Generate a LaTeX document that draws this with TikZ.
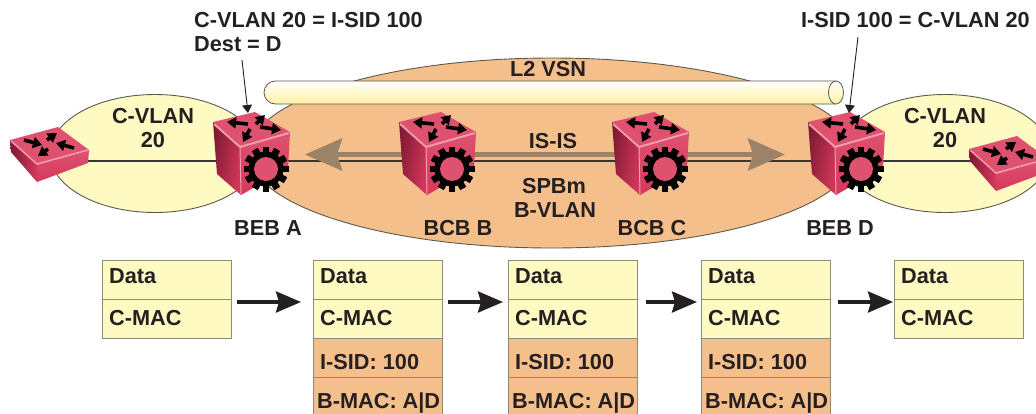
\documentclass[tikz,border=0pt]{standalone}
\usepackage{fontspec}
\setmainfont{Liberation Sans}
\usetikzlibrary{arrows.meta}

\definecolor{f5c08c}{rgb}{0.96, 0.75, 0.55}
\definecolor{fffac2}{rgb}{1, 0.98, 0.76}
\definecolor{fff3a0}{rgb}{1, 0.95, 0.63}
\definecolor{9c8366}{rgb}{0.61, 0.51, 0.40}
\definecolor{231f20}{rgb}{0.14, 0.12, 0.13}
\definecolor{5c5a50}{rgb}{0.36, 0.35, 0.31}
\definecolor{8d8c7c}{rgb}{0.55, 0.55, 0.49}
\definecolor{d63c60}{rgb}{0.84, 0.22, 0.36}
\definecolor{e0587a}{rgb}{0.87, 0.32, 0.44}
\definecolor{8c1c38}{rgb}{0.50, 0.10, 0.20}
\definecolor{f59db0}{rgb}{0.96, 0.62, 0.69}

\tikzset{
  lbl/.style={font=\fontsize{21.7}{24.5}\selectfont\bfseries, text=231f20, inner sep=0pt, anchor=base},
  rowtext/.style={lbl, anchor=base west},
  datarow/.style={draw=8d8c7c, line width=1.2pt, anchor=north west, minimum width=129pt, minimum height=39pt, inner sep=0pt},
  flowarrow/.style={-{Stealth[length=25pt,width=21pt,inset=3pt]}, line width=3.4pt, color=231f20},
  callout/.style={-{Triangle[length=8pt,width=10pt]}, line width=0.9pt, color=231f20},
  cloud/.style={draw=5c5a50, line width=0.9pt},
  tinyarrow/.style={-{Triangle[length=9pt,width=11pt]}, line width=3.6pt, color=black},
  bigswitch/.pic={
    \shade[top color=e0587a, bottom color=d63c60] (-12,-15) -- (38,-29) -- (36,7) -- (-11,34) -- cycle;
    \shade[left color=8c1c38, right color=d63c60, shading angle=80] (-39,-39) -- (-12,-15) -- (-11,34) -- (-35,13) -- cycle;
    \fill[e0587a] (3,-49) -- (38,-29) -- (-12,-15) -- (-39,-39) -- cycle;
    \draw[f59db0, line width=1.8pt, line join=round] (-38,-37) -- (-12,-14) -- (37,-28);
    \draw[f59db0, line width=1pt] (-12,-14) -- (-11,33);
    \draw[tinyarrow] (-4,-37) -- (-25,-39);
    \draw[tinyarrow] (4,-37) -- (13,-46);
    \draw[tinyarrow] (8,-34) -- (29,-31);
    \draw[tinyarrow] (-2,-32) -- (-9,-19);
    \begin{scope}[shift={(14,8)}]
      \foreach \a in {0,30,...,330}
        \fill[black, rotate=\a] (-3.4,15) rectangle (3.4,22.5);
      \fill[black] (0,0) circle (17.5);
      \fill[e0587a] (0,0) circle (12);
    \end{scope}
  },
  flatswitch/.pic={
    \shade[top color=e0587a, bottom color=d63c60] (37,165) -- (89,150) -- (88,163) -- (37,182) -- cycle;
    \shade[left color=8c1c38, right color=d63c60] (10,140) -- (37,165) -- (37,182) -- (11,152) -- cycle;
    \fill[e0587a] (58,127) -- (89,150) -- (37,165) -- (10,140) -- cycle;
    \draw[f59db0, line width=1.4pt, line join=round] (11,141) -- (37,164) -- (88,150);
    \draw[tinyarrow] (24,140) -- (42,145);
    \draw[tinyarrow] (47,140) -- (57,133);
    \draw[tinyarrow] (74,148) -- (56,143);
    \draw[tinyarrow] (48,149) -- (38,156);
  }
}

\begin{document}
\begin{tikzpicture}[x=1pt, y=-1pt]
  \path[use as bounding box, clip] (0,0) rectangle (1036,413);

  % clouds
  \draw[cloud, fill=f5c08c] (552,153) ellipse (303 and 95);
  \draw[cloud, fill=fffac2] (155,153.5) ellipse (105 and 59);
  \draw[cloud, fill=fffac2] (945,153.5) ellipse (105 and 59);
  \node[lbl] (vsnTxt) at (548,76) {L2 VSN};

  % tube
  \draw[5c5a50, line width=0.8pt, top color=white, bottom color=fff3a0]
    (836,81) -- (275.5,81) arc (270:90:11.5) -- (836,104);
  \draw[5c5a50, line width=0.8pt, top color=white, bottom color=fff3a0] (836,92.5) ellipse (7.5 and 11.5);

  % backbone
  \coordinate (swL) at (50,161);
  \coordinate (bebA) at (252,161);
  \coordinate (bcbB) at (438,161);
  \coordinate (bcbC) at (651,161);
  \coordinate (bebD) at (847,161);
  \coordinate (swR) at (1005,161);
  \draw[5c5a50!60!black, line width=1.6pt] (swL) -- (bebA) -- (bcbB) -- (bcbC) -- (bebD) -- (swR);

  \coordinate (isisL) at (305,154.5);
  \coordinate (isisR) at (785,154.5);
  \draw[9c8366, line width=5pt, {Stealth[length=37pt,width=32pt,inset=5pt]}-{Stealth[length=37pt,width=32pt,inset=5pt]}] (isisL) -- (isisR);

  % switches
  \pic at (0,0) {flatswitch};
  \pic at (959,9) {flatswitch};
  \pic at (bebA) {bigswitch};
  \pic at (bcbB) {bigswitch};
  \pic at (bcbC) {bigswitch};
  \pic at (bebD) {bigswitch};

  % top labels
  \node[rowtext] (mapA) at (194,27) {C-VLAN 20 = I-SID 100};
  \node[rowtext] (destA) at (194,51) {Dest = D};
  \node[rowtext] (mapD) at (801,27) {I-SID 100 = C-VLAN 20};
  \coordinate (callA) at (242,60);
  \coordinate (callD) at (858,37);
  \coordinate (tipA) at (248,113);
  \coordinate (tipD) at (849,113);
  \draw[callout] (callA) -- (tipA);
  \draw[callout] (callD) -- (tipD);

  \node[lbl] (vlanL) at (153,123) {C-VLAN};
  \node[lbl] (numL) at (153,147) {20};
  \node[lbl] (vlanR) at (945,123) {C-VLAN};
  \node[lbl] (numR) at (945,147) {20};
  \node[lbl] (isisTxt) at (553,148) {IS-IS};
  \node[lbl] (spbTxt) at (554,193) {SPBm};
  \node[lbl] (bvlanTxt) at (555,217) {B-VLAN};
  \node[lbl] (bebAtxt) at (268,235) {BEB A};
  \node[lbl] (bcbBtxt) at (458,235) {BCB B};
  \node[lbl] (bcbCtxt) at (652,235) {BCB C};
  \node[lbl] (bebDtxt) at (840,235) {BEB D};

  % frames
  \foreach \x/\n in {102/a, 313/b, 508/c, 701/d, 894/e} {
    \node[datarow, fill=fffac2] (data\n) at (\x,260) {};
    \node[datarow, fill=fffac2] (cmac\n) at (\x,299) {};
    \node[rowtext] (dataTxt\n) at (\x+7,283) {Data};
    \node[rowtext] (cmacTxt\n) at (\x+7,325) {C-MAC};
  }
  \foreach \x/\n in {313/b, 508/c, 701/d} {
    \node[datarow, fill=f5c08c] (isid\n) at (\x,338) {};
    \node[datarow, fill=f5c08c] (bmac\n) at (\x,377) {};
    \node[rowtext] (isidTxt\n) at (\x+7,369) {I-SID: 100};
    \node[rowtext] (bmacTxt\n) at (\x+4,408) {B-MAC: A|D};
  }

  \foreach \s/\e/\n in {237/301/a, 448/503/b, 646/697/c, 838/893/d} {
    \coordinate (from\n) at (\s,302);
    \coordinate (to\n) at (\e,302);
    \draw[flowarrow] (from\n) -- (to\n);
  }
\end{tikzpicture}
\end{document}
